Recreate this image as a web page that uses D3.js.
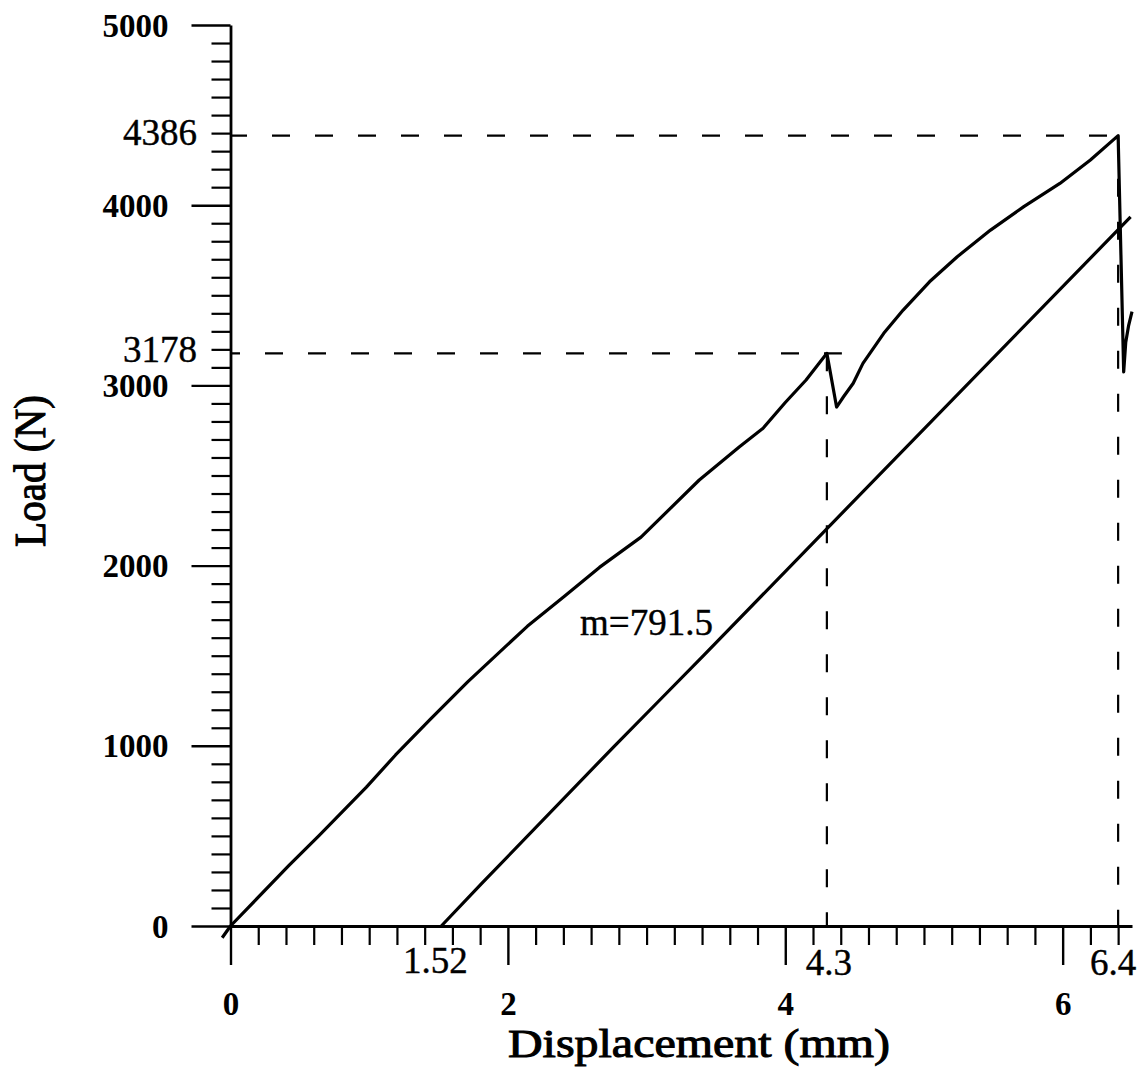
<!DOCTYPE html>
<html>
<head>
<meta charset="utf-8">
<script src="https://cdn.jsdelivr.net/npm/d3@7"></script>
<style>
  html, body { margin: 0; padding: 0; background: #fff; }
  svg { display: block; }
</style>
</head>
<body>
<svg id="chart" width="1141" height="1076"></svg>
<script>
// Load–displacement record: loading curve with two load drops, and the
// unloading/compliance line that starts at the permanent offset.
const loadingDisp = [-0.06, 0, 0.42, 0.64, 0.98, 1.19, 1.44, 1.71, 2.14, 2.41, 2.66, 2.96,
  3.38, 3.67, 3.84, 4.0, 4.15, 4.3, 4.37, 4.42, 4.49, 4.56, 4.71, 4.82, 4.85,
  5.04, 5.24, 5.48, 5.72, 5.98, 6.2, 6.4, 6.44, 6.455, 6.475, 6.5];
const loadingLoad = [-65, 0, 335, 503, 771, 949, 1147, 1355, 1663, 1831, 1990, 2158,
  2475, 2660, 2762, 2905, 3030, 3178, 2880, 2937, 3012, 3122, 3289, 3391, 3418,
  3575, 3714, 3862, 3992, 4121, 4251, 4386, 3075, 3240, 3330, 3410];

const unloadDisp = [1.52, 1.81, 2.77, 3.09, 3.41, 4.18, 6.49];
const unloadLoad = [0, 235, 1000, 1250, 1500, 2110, 3935];

const xMajorTicks = [0, 2, 4, 6];
const yMajorTicks = [0, 1000, 2000, 3000, 4000, 5000];

const peakDisp = [4.3, 6.4];
const peakLoad = [3178, 4386];
const peakDispLabels = ["4.3", "6.4"];
const peakLoadLabels = ["3178", "4386"];
const offsetDisp = 1.52;
const offsetLabel = "1.52";
const slopeLabel = "m=791.5";

const xTitle = "Displacement (mm)";
const yTitle = "Load (N)";

const serif = "'Liberation Serif', 'Times New Roman', serif";
const svg = d3.select("#chart");

const x = d3.scaleLinear().domain([0, 6.5]).range([230.5, 1132]);
const y = d3.scaleLinear().domain([0, 5000]).range([926, 25]);

const xMinor = d3.range(1, 33).map(i => +(i * 0.2).toFixed(1)).filter(v => !xMajorTicks.includes(v));
const yMinor = d3.range(1, 50).map(i => i * 100).filter(v => v % 1000 !== 0);

// minor ticks
svg.append("g").attr("transform", `translate(0,${y(0)})`)
  .call(d3.axisBottom(x).tickValues(xMinor).tickSize(19).tickSizeOuter(0).tickFormat(""))
  .call(g => g.select(".domain").remove())
  .call(g => g.selectAll("line").attr("stroke", "#000").attr("stroke-width", 2.2));
svg.append("g").attr("transform", `translate(${x(0)},0)`)
  .call(d3.axisLeft(y).tickValues(yMinor).tickSize(19).tickSizeOuter(0).tickFormat(""))
  .call(g => g.select(".domain").remove())
  .call(g => g.selectAll("line").attr("stroke", "#000").attr("stroke-width", 2.2));

// major axes
svg.append("g").attr("transform", `translate(0,${y(0)})`)
  .call(d3.axisBottom(x).tickValues(xMajorTicks).tickSize(39).tickSizeOuter(0).tickFormat(d3.format("d")))
  .call(g => g.select(".domain").attr("stroke", "#000").attr("stroke-width", 2.8))
  .call(g => g.selectAll("line").attr("stroke", "#000").attr("stroke-width", 2.4))
  .call(g => g.selectAll("text")
    .attr("y", 89).attr("dy", null)
    .attr("fill", "#000")
    .style("font-family", serif).style("font-size", "33px").style("font-weight", "bold"));

svg.append("g").attr("transform", `translate(${x(0)},0)`)
  .call(d3.axisLeft(y).tickValues(yMajorTicks).tickSize(39).tickSizeOuter(0).tickFormat(d3.format("d")))
  .call(g => g.select(".domain").attr("stroke", "#000").attr("stroke-width", 2.8))
  .call(g => g.selectAll("line").attr("stroke", "#000").attr("stroke-width", 2.4))
  .call(g => g.selectAll("text")
    .attr("x", -62).attr("dy", null).attr("y", 11)
    .attr("fill", "#000")
    .style("font-family", serif).style("font-size", "33px").style("font-weight", "bold"));

// dashed guides to the two peak loads
const dash = "18,25";
const hOffsets = [8.5, 1.5];
const hEnds = [x(peakDisp[0]) + 15, x(peakDisp[1]) - 4];
peakLoad.forEach((p, i) => {
  svg.append("line")
    .attr("x1", x(0)).attr("x2", hEnds[i])
    .attr("y1", y(p)).attr("y2", y(p))
    .attr("stroke", "#000").attr("stroke-width", 2.2)
    .attr("stroke-dasharray", dash).attr("stroke-dashoffset", hOffsets[i]);
  svg.append("line")
    .attr("x1", x(peakDisp[i])).attr("x2", x(peakDisp[i]))
    .attr("y1", y(p)).attr("y2", y(0))
    .attr("stroke", "#000").attr("stroke-width", 2.2)
    .attr("stroke-dasharray", dash);
});

// curves
const line = d3.line().x(d => x(d[0])).y(d => y(d[1]));
svg.append("path")
  .datum(loadingDisp.map((d, i) => [d, loadingLoad[i]]))
  .attr("d", line).attr("fill", "none")
  .attr("stroke", "#000").attr("stroke-width", 3.2).attr("stroke-linejoin", "round");
svg.append("path")
  .datum(unloadDisp.map((d, i) => [d, unloadLoad[i]]))
  .attr("d", line).attr("fill", "none")
  .attr("stroke", "#000").attr("stroke-width", 3.2).attr("stroke-linejoin", "round");

// annotations
const note = (txt, px, py, anchor) => svg.append("text")
  .attr("x", px).attr("y", py).attr("text-anchor", anchor)
  .style("font-family", serif).style("font-size", "37px")
  .attr("fill", "#000").attr("stroke", "#000").attr("stroke-width", 0.4)
  .text(txt);

peakLoad.forEach((p, i) => note(peakLoadLabels[i], 197, y(p) + 9, "end"));
note(peakDispLabels[0], x(peakDisp[0]) + 2, 975, "middle");
note(peakDispLabels[1], x(peakDisp[1]) - 5, 975, "middle");
note(offsetLabel, x(offsetDisp) - 6, 973, "middle");
note(slopeLabel, 580, 635, "start");

// axis titles
svg.append("text")
  .attr("x", 699).attr("y", 1057).attr("text-anchor", "middle")
  .attr("textLength", 382).attr("lengthAdjust", "spacingAndGlyphs")
  .style("font-family", serif).style("font-size", "40px")
  .attr("fill", "#000").attr("stroke", "#000").attr("stroke-width", 1)
  .text(xTitle);

svg.append("text")
  .attr("transform", "translate(45,471) rotate(-90)")
  .attr("text-anchor", "middle")
  .attr("textLength", 152).attr("lengthAdjust", "spacingAndGlyphs")
  .style("font-family", serif).style("font-size", "44px")
  .attr("fill", "#000").attr("stroke", "#000").attr("stroke-width", 1)
  .text(yTitle);
</script>
</body>
</html>
